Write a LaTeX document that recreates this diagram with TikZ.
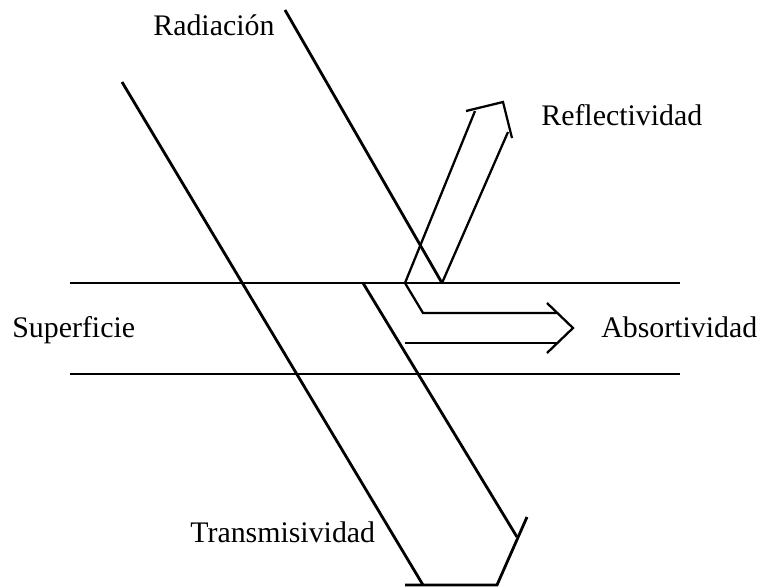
\documentclass[tikz,border=0pt]{standalone}
\usepackage{fontspec}
\setmainfont{Liberation Serif}
\usetikzlibrary{positioning}

\begin{document}
\begin{tikzpicture}[
    x=0.02cm, y=-0.02cm,
    surface/.style={line width=1.1pt},
    beam/.style={line width=1.6pt, line join=miter},
    outarrow/.style={line width=1.3pt, line join=miter},
    lbl/.style={font=\fontsize{17}{20}\selectfont, inner sep=0pt, anchor=base west}
]
\useasboundingbox (0,0) rectangle (762,586);

% --- Surface ---
\coordinate (stl) at (70,283);  \coordinate (str) at (680,283);
\coordinate (sbl) at (70,374);  \coordinate (sbr) at (680,374);
\draw[surface] (stl) -- (str);
\draw[surface] (sbl) -- (sbr);

% --- Incident radiation ---
\coordinate (radL) at (122,82);
\coordinate (radR) at (285,10);
\coordinate (hit)  at (442,283);
\draw[beam] (radR) -- (hit);

% --- Transmitted part ---
\coordinate (traL)  at (423,585);
\coordinate (traR0) at (363,283);
\coordinate (traR1) at (517,537);
\coordinate (traB1) at (527,517);
\coordinate (traT)  at (497,585);
\coordinate (traB2) at (405,585);
\draw[beam] (radL) -- (traL);
\draw[beam] (traR0) -- (traR1);
\draw[beam] (traB1) -- (traT) -- (traB2);

% --- Reflected part ---
\coordinate (refR) at (508,132);
\coordinate (refB1) at (512,138);
\coordinate (refT)  at (503,102);
\coordinate (refB2) at (466,111);
\coordinate (refL)  at (475,111);
\coordinate (split) at (405,283);
\draw[outarrow] (hit) -- (refR);
\draw[outarrow] (refB1) -- (refT) -- (refB2);

% --- Absorbed part ---
\coordinate (absK) at (423,313);
\coordinate (absU) at (557,313);
\coordinate (absL0) at (405,343);
\coordinate (absL1) at (557,343);
\coordinate (absB1) at (547,303);
\coordinate (absT)  at (573,328);
\coordinate (absB2) at (547,353);
\draw[outarrow] (refL) -- (split) -- (absK) -- (absU);
\draw[outarrow] (absL0) -- (absL1);
\draw[outarrow] (absB1) -- (absT) -- (absB2);

% --- Labels ---
\node[lbl] (radiacion) at (153,35) {Radiación};
\node[lbl] (reflect)   at (541,125) {Reflectividad};
\node[lbl] (superf)    at (12,337) {Superficie};
\node[lbl] (absort)    at (601,337) {Absortividad};
\node[lbl] (transm)    at (190,542) {Transmisividad};

\end{tikzpicture}
\end{document}
